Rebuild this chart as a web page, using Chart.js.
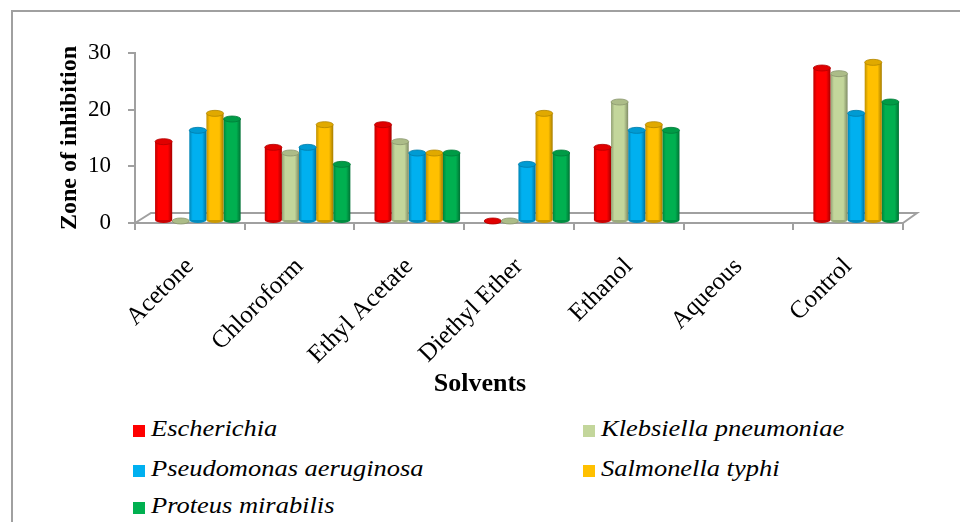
<!DOCTYPE html>
<html>
<head>
<meta charset="utf-8">
<script src="https://cdn.jsdelivr.net/npm/chart.js@4.4.1/dist/chart.umd.min.js"></script>
<style>
  body { margin: 0; background: #fff; }
  #wrap { position: relative; width: 960px; height: 522px; overflow: hidden; background: #fff; }
  #frame { position: absolute; left: 11px; top: 10px; width: 980px; height: 540px; border: 2px solid #a0a0a0; box-sizing: border-box; }
  #box { position: absolute; left: 0; top: 0; width: 960px; height: 400px; }
  .item { position: absolute; height: 26px; line-height: 26px; white-space: nowrap; color: #000; }
  .item .sw { display: inline-block; width: 12px; height: 12px; vertical-align: middle; margin-right: 6px; position: relative; top: -1px; }
  .item .tx { display: inline-block; font: italic 23px 'Liberation Serif', 'Times New Roman', serif; transform: scaleX(1.15); transform-origin: left center; }
</style>
</head>
<body>
<div id="wrap">
  <div id="frame"></div>
  <div id="box"><canvas id="chart"></canvas></div>
  <div id="legend"></div>
</div>
<script>
// =========================
// DADOS
// =========================

const solvents = ['Acetone', 'Chloroform', 'Ethyl Acetate', 'Diethyl Ether', 'Ethanol', 'Aqueous', 'Control'];

const escherichia = [14, 13, 17, 0, 13, null, 27];
const klebsiella  = [0, 12, 14, 0, 21, null, 26];
const pseudomonas = [16, 13, 12, 10, 16, null, 19];
const salmonella  = [19, 17, 12, 19, 17, null, 28];
const proteus     = [18, 10, 12, 12, 16, null, 21];

const seriesNames  = ['Escherichia', 'Klebsiella pneumoniae', 'Pseudomonas aeruginosa', 'Salmonella typhi', 'Proteus mirabilis'];
const seriesColors = ['#ff0000', '#c3d69b', '#00b0f0', '#ffc000', '#00b050'];

const yTicks = [0, 10, 20, 30];

// =========================
// CORES (efeito cilindro)
// =========================

function shade(hex, f) {
  const n = parseInt(hex.slice(1), 16);
  const r = Math.round(((n >> 16) & 255) * f);
  const g = Math.round(((n >> 8) & 255) * f);
  const b = Math.round((n & 255) * f);
  return `rgb(${r},${g},${b})`;
}

function cylinder(c, color) {
  const el = c.element;
  if (!el || !isFinite(el.x) || !el.width) return color;
  const half = el.width / 2;
  const g = c.chart.ctx.createLinearGradient(el.x - half, 0, el.x + half, 0);
  g.addColorStop(0, shade(color, 0.75));
  g.addColorStop(0.2, color);
  g.addColorStop(0.75, color);
  g.addColorStop(1, shade(color, 0.65));
  return g;
}

// =========================
// PLUGIN 3D (chão + tampas)
// =========================

const depth = { dx: 8, dy: -2 };

const floor3d = {
  id: 'floor3d',
  beforeDatasetsDraw(chart) {
    const { ctx, chartArea } = chart;
    const y0 = chart.scales.y.getPixelForValue(0);
    const l = chartArea.left, r = chartArea.right;
    ctx.save();
    ctx.strokeStyle = '#a0a0a0';
    ctx.lineWidth = 2;
    ctx.beginPath();
    ctx.moveTo(l, y0);
    ctx.lineTo(l + 16, y0 - 10);
    ctx.lineTo(r + 14, y0 - 10);
    ctx.lineTo(r, y0);
    ctx.stroke();
    ctx.restore();

    ctx.save();
    ctx.translate(depth.dx, depth.dy);
  },
  afterDatasetsDraw(chart) {
    const { ctx } = chart;
    chart.data.datasets.forEach((ds, di) => {
      const meta = chart.getDatasetMeta(di);
      const color = seriesColors[di];
      meta.data.forEach((el, i) => {
        if (ds.data[i] == null) return;
        const rx = el.width / 2;
        // base arredondada
        ctx.beginPath();
        ctx.ellipse(el.x, el.base, rx, 3, 0, 0, Math.PI);
        ctx.fillStyle = shade(color, 0.8);
        ctx.fill();
        // tampa
        ctx.beginPath();
        ctx.ellipse(el.x, el.y, rx, 3, 0, 0, Math.PI * 2);
        ctx.fillStyle = shade(color, 0.88);
        ctx.fill();
        ctx.strokeStyle = shade(color, 0.7);
        ctx.lineWidth = 0.8;
        ctx.stroke();
      });
    });
    ctx.restore();
  }
};

// =========================
// GRÁFICO
// =========================

const datasetsData = [escherichia, klebsiella, pseudomonas, salmonella, proteus];

const chart = new Chart(document.getElementById('chart'), {
  type: 'bar',
  data: {
    labels: solvents,
    datasets: datasetsData.map((d, i) => ({
      label: seriesNames[i],
      data: d,
      backgroundColor: c => cylinder(c, seriesColors[i]),
      borderWidth: 0,
      barPercentage: 1,
      categoryPercentage: 0.78
    }))
  },
  options: {
    responsive: true,
    maintainAspectRatio: false,
    animation: false,
    layout: { padding: { top: 53, left: 0, right: 0, bottom: 0 } },
    plugins: {
      legend: { display: false },
      tooltip: { enabled: false },
      title: {
        display: true,
        position: 'bottom',
        text: 'Solvents',
        color: '#000',
        font: { family: 'Liberation Serif', size: 26, weight: 'bold' },
        padding: { top: 0, bottom: 0 }
      }
    },
    scales: {
      x: {
        grid: { drawOnChartArea: false, tickLength: 7, color: '#a0a0a0', lineWidth: 2 },
        border: { color: '#a0a0a0', width: 2 },
        ticks: {
          color: '#000',
          font: { family: 'Liberation Serif', size: 25 },
          minRotation: 45,
          maxRotation: 45,
          autoSkip: false,
          padding: 22
        },
        afterFit: s => { s.height = 145.8; }
      },
      y: {
        min: 0,
        max: 30,
        afterBuildTicks: s => { s.ticks = yTicks.map(v => ({ value: v })); },
        grid: { drawOnChartArea: false, tickLength: 7, color: '#a0a0a0', lineWidth: 2 },
        border: { color: '#a0a0a0', width: 2 },
        ticks: {
          color: '#000',
          font: { family: 'Liberation Serif', size: 23 },
          padding: 17
        },
        title: {
          display: true,
          text: 'Zone of inhibition',
          color: '#000',
          font: { family: 'Liberation Serif', size: 24, weight: 'bold' },
          padding: { top: 55, bottom: 0 }
        },
        afterFit: s => { s.width = 135; }
      },
      y2: {
        position: 'right',
        display: true,
        grid: { display: false },
        ticks: { display: false },
        border: { display: false },
        afterFit: s => { s.width = 57; }
      }
    }
  },
  plugins: [floor3d]
});

// segunda passagem para os gradientes conhecerem a posição das barras
chart.update();

// =========================
// LEGENDA
// =========================

const legend = document.getElementById('legend');
const rowY = [429, 469, 506];

chart.data.datasets.forEach((ds, i) => {
  const item = document.createElement('div');
  item.className = 'item';
  item.style.left = (i % 2 ? 583 : 133) + 'px';
  item.style.top = (rowY[Math.floor(i / 2)] - 13) + 'px';
  item.innerHTML = `<span class="sw" style="background:${seriesColors[i]}"></span><span class="tx">${ds.label}</span>`;
  legend.appendChild(item);
});
</script>
</body>
</html>
